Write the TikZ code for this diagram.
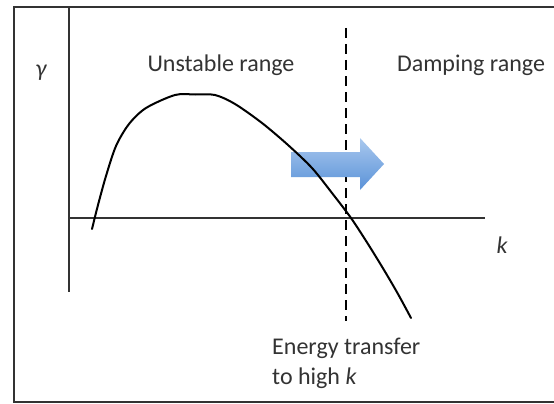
\documentclass[tikz,border=0pt]{standalone}
\usepackage{fontspec}
\setmainfont{Carlito}
\definecolor{framec}{HTML}{333333}
\definecolor{arrowlight}{HTML}{A9C8EE}
\definecolor{arrowdark}{HTML}{5A92D8}
\definecolor{txt}{HTML}{333333}
\begin{document}
\begin{tikzpicture}[x=1pt,y=-1pt,
  lbl/.style={font=\fontsize{24}{30}\selectfont, text=txt, inner sep=0pt},
  ilbl/.style={font=\fontsize{24}{30}\selectfont\itshape, text=txt, inner sep=0pt},
  axisline/.style={line width=2pt, draw=framec},
  curveline/.style={line width=2pt, draw=black, line cap=round, line join=round}]
\useasboundingbox (0,0) rectangle (554,404);
\fill[white] (0,0) rectangle (554,404);
% frame
\draw[line width=1.6pt, draw=framec] (14,7) rectangle (570,402);
% axes
\coordinate (ytop) at (69,7);
\coordinate (ybot) at (69,292);
\coordinate (xl) at (69,218);
\coordinate (xr) at (485,218);
\draw[axisline] (ytop) -- (ybot);
\draw[axisline] (xl) -- (xr);
% dashed line
\coordinate (dtop) at (346,28);
\coordinate (dbot) at (346,321);
\draw[line width=2pt, dash pattern=on 10pt off 6pt] (dtop) -- (dbot);
% arrow
\shade[top color=arrowlight, bottom color=arrowdark]
  (291,152) -- (360,152) -- (360,138) -- (384,164) -- (360,190) -- (360,177) -- (291,177) -- cycle;
% curve
\draw[curveline] plot[smooth, tension=0.5] coordinates {
  (92,229) (98,205) (106,176) (116,146) (129,124) (146,108) (175,95) (195,94.5) (215,95)
  (235,104) (262,123) (288,145) (312,168) (332,193) (351,218) (368,244) (384,270) (398,294) (411,318)};
% labels
\node[ilbl] (gamma) at (41,73) {γ};
\node[lbl] (unstable) at (221,65) {Unstable range};
\node[lbl] (damping) at (471,65) {Damping range};
\node[ilbl] (k) at (502,245) {k};
\node[lbl, anchor=base west] (energy) at (272,354) {Energy transfer};
\node[lbl, anchor=base west] (tohigh) at (272,384) {to high \textit{k}};
\end{tikzpicture}
\end{document}
